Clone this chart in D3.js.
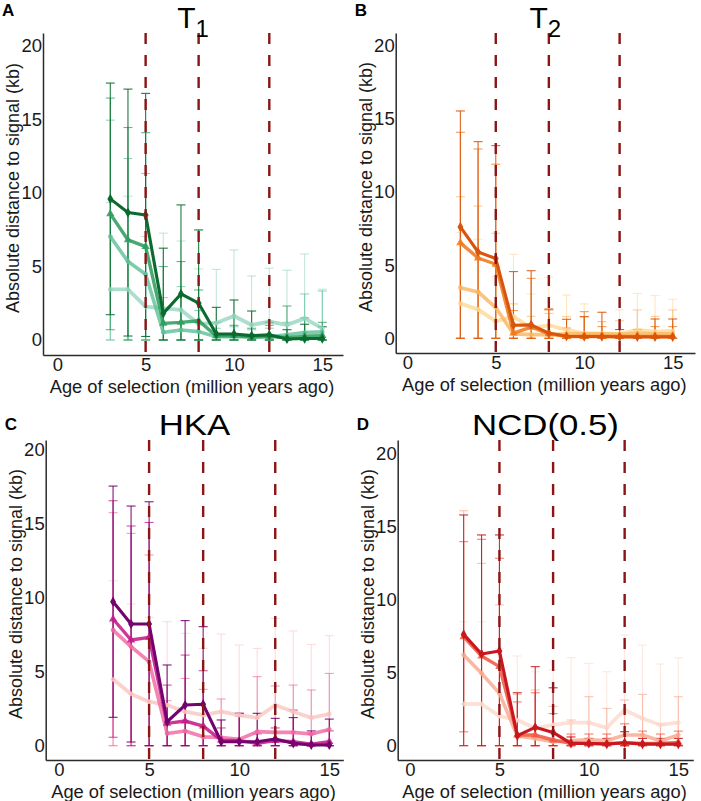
<!DOCTYPE html>
<html><head><meta charset="utf-8">
<script src="https://cdn.jsdelivr.net/npm/d3@7"></script>
<style>
html,body{margin:0;padding:0;background:#fff;}
svg{display:block;font-family:"Liberation Sans",Arial,Helvetica,sans-serif;}
</style></head>
<body>
<svg id="chart" width="701" height="801"></svg>
<script>
// ---------- data ----------
const ages = [3,4,5,6,7,8,9,10,11,12,13,14,15];
const xTicks = [0,5,10,15];
const yTicks = [0,5,10,15,20];
const markerAges = [5,8,12];
const panelLetters = ["A","B","C","D"];
const panelTitles = ["T","T","HKA","NCD(0.5)"];
const panelSubs = ["1","2","",""];
const xLabel = "Age of selection (million years ago)";
const yLabel = "Absolute distance to signal (kb)";

// Panel A (T1) means, lightest -> darkest
const A_mean1 = [3.44,3.44,2.27,2.15,2.04,1.1,1.15,1.63,1.02,1.25,1.02,1.47,0.79];
const A_mean2 = [7.03,5.33,4.47,0.52,0.68,0.57,0.22,0.22,0.2,0.22,0.35,0.5,0.55];
const A_mean3 = [8.57,6.8,6.35,1.13,1.2,1.31,0.28,0.3,0.2,0.25,0.15,0.25,0.3];
const A_mean4 = [9.59,8.66,8.5,1.81,3.13,2.5,0.41,0.41,0.3,0.35,0.07,0.1,0.1];
const A_up1 = [9.34,9.77,7.03,7.26,6.73,4.83,4.8,6.12,4.35,4.88,4.74,5.85,3.45];
const A_up2 = [14.94,12.33,11.32,2.88,3.63,2.0,0.8,0.9,0.7,0.8,1.2,3.13,3.33];
const A_up3 = [16.44,14.44,14.09,4.99,5.33,3.4,1.2,1.0,0.8,1.0,2.31,1.5,1.2];
const A_up4 = [17.46,17.05,16.76,6.24,9.18,7.48,2.22,2.72,1.97,1.2,0.7,1.07,0.9];

// Panel B (T2)
const B_mean1 = [2.37,1.98,1.16,1.5,0.7,0.89,0.57,0.34,0.34,0.3,0.57,0.45,0.5];
const B_mean2 = [3.46,3.17,2.1,0.3,0.25,0.25,0.3,0.3,0.3,0.28,0.35,0.3,0.3];
const B_mean3 = [6.52,5.49,5.06,0.36,0.77,0.3,0.12,0.12,0.12,0.12,0.12,0.12,0.12];
const B_mean4 = [7.61,5.9,5.45,0.89,0.92,0.36,0.14,0.12,0.12,0.1,0.1,0.1,0.1];
const B_up1 = [7.24,6.77,4.2,5.74,3.03,4.17,2.96,2.35,1.14,1.94,3.07,2.92,2.67];
const B_up2 = [9.68,9.04,7.18,2.35,1.5,1.7,1.48,1.48,1.14,1.2,1.94,1.5,1.94];
const B_up3 = [14.08,12.94,11.9,1.9,4.1,1.94,0.7,1.82,0.8,0.6,0.6,0.8,0.8];
const B_up4 = [15.54,13.44,13.17,4.56,4.62,2.0,1.3,1.48,1.78,0.6,0.6,1.32,1.32];

// Panel C (HKA)
const C_mean1 = [4.49,3.5,2.98,2.75,2.3,2.07,2.3,2.07,1.89,2.75,2.3,1.89,2.14];
const C_mean2 = [7.82,6.7,5.68,0.83,0.99,0.6,0.56,0.43,0.95,0.9,0.9,0.79,1.1];
const C_mean3 = [8.57,7.15,7.33,1.51,1.67,1.33,0.38,0.34,0.16,0.34,0.27,0.11,0.27];
const C_mean4 = [9.74,8.23,8.23,1.62,2.75,2.8,0.27,0.27,0.27,0.45,0.16,0.05,0.05];
const C_up1 = [11.16,9.58,8.68,8.39,7.6,6.58,7.55,6.81,6.58,8.61,7.76,6.85,7.44];
const C_up2 = [15.76,14.36,12.9,3.04,4.55,3.81,3.16,2.0,4.67,4.04,4.1,3.77,4.89];
const C_up3 = [16.57,14.86,15.1,4.1,6.13,5.07,1.2,2.19,0.8,1.2,2.41,0.8,1.0];
const C_up4 = [17.56,16.21,16.5,5.46,8.46,8.05,1.74,2.19,2.19,1.85,1.9,1.0,1.8];

// Panel D (NCD(0.5))
const D_mean1 = [2.86,2.86,2.03,1.76,1.19,1.42,1.58,1.58,1.23,2.45,1.87,1.42,1.58];
const D_mean2 = [6.22,4.96,3.59,0.66,0.5,0.27,0.34,0.43,0.34,0.73,0.73,0.32,0.73];
const D_mean3 = [7.47,6.15,5.42,0.73,0.73,0.39,0.16,0.16,0.14,0.2,0.16,0.16,0.23];
const D_mean4 = [7.63,6.29,6.49,0.69,1.26,0.91,0.16,0.16,0.11,0.2,0.11,0.11,0.11];
const D_up1 = [8.5,8.5,6.67,6.15,5.07,5.2,6.03,5.64,5.07,7.59,6.9,5.6,6.03];
const D_up2 = [16.11,12.5,9.65,3.52,3.82,2.7,1.76,3.36,2.56,3.13,3.52,1.5,3.36];
const D_up3 = [13.99,14.15,12.85,3.0,3.63,2.2,0.8,0.8,0.8,1.5,1.0,0.8,1.0];
const D_up4 = [15.82,14.45,14.45,3.63,5.42,3.97,0.6,0.5,0.5,0.96,0.5,0.5,0.5];

const A_colors = ["#8fd3bb","#5cbf97","#2f9e5f","#0b6b2e"];
const B_colors = ["#fdd68c","#fbb45c","#ef7a1e","#d9550c"];
const C_colors = ["#f9c2bb","#f065a0","#c51b8a","#74026f"];
const D_colors = ["#fcd6c8","#f8a68a","#ef5a43","#c8171e"];

// ---------- layout (not data) ----------
const layouts = [
  {axL:43,    axR:343,   axT:33,  axB:355, x0:57.3,  x15:322.3, y0:340,   y20:45.7, letterY:16,  titleX:1.0},
  {axL:395.7, axR:695,   axT:33,  axB:353, x0:407.3, x15:672.7, y0:338.3, y20:45.7, letterY:16,  titleX:1.0},
  {axL:45.7,  axR:343.3, axT:440, axB:760, x0:59,    x15:329.3, y0:745.7, y20:450,  letterY:430, titleX:1.2},
  {axL:397.7, axR:693.3, axT:440, axB:760, x0:410,   x15:678.3, y0:745.7, y20:454,  letterY:430, titleX:1.2}
];

const panelData = [
  {means:[A_mean1,A_mean2,A_mean3,A_mean4], ups:[A_up1,A_up2,A_up3,A_up4], colors:A_colors},
  {means:[B_mean1,B_mean2,B_mean3,B_mean4], ups:[B_up1,B_up2,B_up3,B_up4], colors:B_colors},
  {means:[C_mean1,C_mean2,C_mean3,C_mean4], ups:[C_up1,C_up2,C_up3,C_up4], colors:C_colors},
  {means:[D_mean1,D_mean2,D_mean3,D_mean4], ups:[D_up1,D_up2,D_up3,D_up4], colors:D_colors}
];

const svg = d3.select("#chart");

panelData.forEach((pd, pi) => {
  const L = layouts[pi];
  const g = svg.append("g");

  const xb = d3.scaleLinear().domain([0,15]).range([L.x0, L.x15]);
  const yb = d3.scaleLinear().domain([0,20]).range([L.y0, L.y20]);
  const x = d3.scaleLinear().domain([xb.invert(L.axL), xb.invert(L.axR)]).range([L.axL, L.axR]);
  const y = d3.scaleLinear().domain([yb.invert(L.axB), yb.invert(L.axT)]).range([L.axB, L.axT]);

  const series = pd.means.map((m, si) => ages.map((a, i) => {
    const up = pd.ups[si][i];
    const lo = Math.max(0, m[i] - (up - m[i]));
    return {age:a, mean:m[i], up:up, lo:lo};
  }));

  const alphas = [0.75, 0.8, 0.88, 1];
  const barAlpha = [0.55, 0.65, 0.75, 0.9];
  const lineW = [3.8, 3.6, 3.4, 3.1];

  // error bars
  series.forEach((s, si) => {
    const eb = g.append("g").attr("stroke", pd.colors[si]).attr("stroke-opacity", barAlpha[si]).attr("stroke-width", 1.1).attr("fill","none");
    eb.selectAll("line.v").data(s).enter().append("line")
      .attr("x1", d => x(d.age)).attr("x2", d => x(d.age))
      .attr("y1", d => y(d.lo)).attr("y2", d => y(d.up));
    eb.selectAll("line.t").data(s).enter().append("line")
      .attr("x1", d => x(d.age) - 4.5).attr("x2", d => x(d.age) + 4.5)
      .attr("y1", d => y(d.up)).attr("y2", d => y(d.up));
    eb.selectAll("line.b").data(s).enter().append("line")
      .attr("x1", d => x(d.age) - 4.5).attr("x2", d => x(d.age) + 4.5)
      .attr("y1", d => y(d.lo)).attr("y2", d => y(d.lo));
  });

  // lines + markers
  const line = d3.line().x(d => x(d.age)).y(d => y(d.mean));
  series.forEach((s, si) => {
    g.append("path").datum(s).attr("d", line)
      .attr("fill","none").attr("stroke", pd.colors[si])
      .attr("stroke-opacity", alphas[si]).attr("stroke-width", lineW[si])
      .attr("stroke-linejoin","round");
    const sym = si === 3 ? d3.symbolDiamond : (si === 2 ? d3.symbolTriangle : d3.symbolCircle);
    g.append("g").selectAll("path").data(s).enter().append("path")
      .attr("d", d3.symbol().type(sym).size(si >= 2 ? 30 : 18))
      .attr("transform", d => `translate(${x(d.age)},${y(d.mean)})`)
      .attr("fill", pd.colors[si]).attr("fill-opacity", alphas[si]);
  });

  // vertical dashed lines
  g.append("g").selectAll("line").data(markerAges).enter().append("line")
    .attr("x1", d => x(d)).attr("x2", d => x(d))
    .attr("y1", L.axT).attr("y2", L.axB)
    .attr("stroke", "#8b1414").attr("stroke-width", 2.4)
    .attr("stroke-dasharray", "11,11");

  // axes
  const xAxis = d3.axisBottom(x).tickValues(xTicks).tickSize(0).tickPadding(3).tickFormat(d3.format("d"));
  const yAxis = d3.axisLeft(y).tickValues(yTicks).tickSize(0).tickPadding(1).tickFormat(d3.format("d"));
  const gx = g.append("g").attr("transform", `translate(0,${L.axB})`).call(xAxis);
  const gy = g.append("g").attr("transform", `translate(${L.axL},0)`).call(yAxis);
  [gx, gy].forEach(ax => {
    ax.select(".domain").attr("stroke", "#2b2b2b").attr("stroke-width", 1.5);
    ax.selectAll("text").attr("font-size", 18.5).attr("fill", "#1a1a1a").attr("font-family", "Liberation Sans, Arial, sans-serif");
  });

  // axis titles
  g.append("text").attr("x", (L.axL + L.axR)/2 - 1).attr("y", L.axB + 38)
    .attr("text-anchor","middle").attr("font-size", 18.3).attr("fill","#1a1a1a").text(xLabel);
  g.append("text").attr("transform", `translate(${L.axL - 24},${(L.axT + L.axB)/2 - 6}) rotate(-90)`)
    .attr("text-anchor","middle").attr("font-size", 18).attr("fill","#1a1a1a").text(yLabel);

  // panel title
  const cx = (L.axL + L.axR)/2;
  const t = g.append("text")
    .attr("transform", `translate(${cx},${L.axT - 5}) scale(${L.titleX},1)`)
    .attr("text-anchor","middle").attr("font-size", pi < 2 ? 30 : 29).attr("fill","#000");
  t.append("tspan").text(panelTitles[pi]);
  if (panelSubs[pi]) t.append("tspan").attr("dy", 9).attr("font-size", 24).text(panelSubs[pi]);

  // panel letter
  g.append("text").attr("x", L.axL - 41).attr("y", L.letterY)
    .attr("font-size", 17).attr("font-weight","bold").attr("fill","#000").text(panelLetters[pi]);
});
</script>
</body></html>
